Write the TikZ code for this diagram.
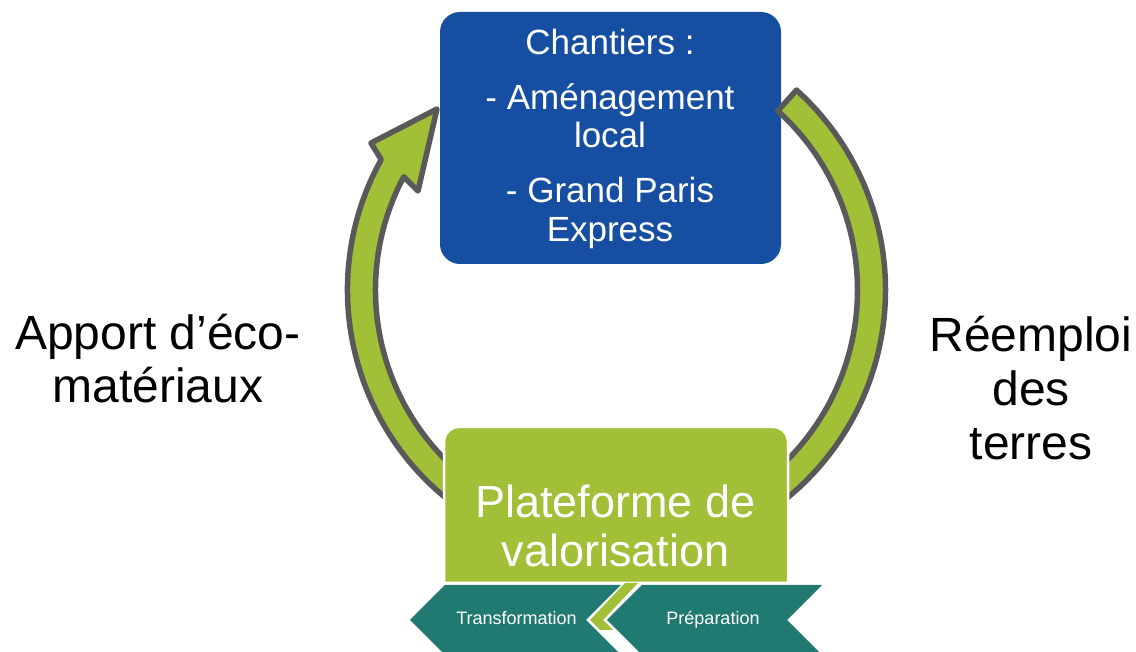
\documentclass[tikz,border=0pt]{standalone}
\usepackage{fontspec}
\setmainfont{Liberation Sans}
\definecolor{siteblue}{HTML}{164FA2}
\definecolor{ringgreen}{HTML}{A2BF38}
\definecolor{ringgray}{HTML}{595959}
\definecolor{stepteal}{HTML}{217A72}
\begin{document}
\begin{tikzpicture}[x=1pt,y=1pt,
  wtxt/.style={inner sep=0pt, anchor=base, text=white},
  sitetext/.style={wtxt, font=\fontsize{35}{38}\selectfont},
  plattext/.style={wtxt, font=\fontsize{45}{48}\selectfont},
  steptext/.style={wtxt, font=\fontsize{18}{20}\selectfont},
  sidetext/.style={inner sep=0pt, anchor=base, text=black, font=\fontsize{48}{54}\selectfont},
  ring/.style={fill=ringgreen, draw=ringgray, line width=5.5pt, line join=round},
  stepbox/.style={fill=stepteal}]
\useasboundingbox (0,0) rectangle (1136,652);

% building sites box
\node[fill=siteblue, rounded corners=20pt, minimum width=341pt, minimum height=252pt,
      inner sep=0pt] (site) at (610.5,514) {};
\node[sitetext] (s1) at (610,597) {Chantiers :};
\node[sitetext] (s2) at (610,542) {- Aménagement};
\node[sitetext] (s3) at (610,504) {local};
\node[sitetext] (s4) at (610,449) {- Grand Paris};
\node[sitetext] (s5) at (610,410) {Express};

% circular flow bands around the centre
\begin{scope}[shift={(616.5,362)}]
  % left band, ending in an arrow head at the sites box
  \draw[ring] (240:269) arc[start angle=240, end angle=151, radius=269]
     -- (371-616.5,509-362) -- (437-616.5,543-362) -- (418-616.5,461-362)
     -- (152:241) arc[start angle=152, end angle=240, radius=241] -- cycle;
  % right band, from the sites box down to the platform
  \draw[ring] (48:269) arc[start angle=48, end angle=-60, radius=269]
     -- (-60:241) arc[start angle=-60, end angle=48, radius=241] -- cycle;
\end{scope}

% recovery platform
\draw[fill=ringgreen, draw=white, line width=2.5pt]
  (444,69) -- (444,210) arc[start angle=180, end angle=90, radius=15]
  -- (773,225) arc[start angle=90, end angle=0, radius=15] -- (788,69) -- cycle;
\node[plattext] (p1) at (615.5,134) {Plateforme de};
\node[plattext] (p2) at (615.5,85) {valorisation};

% green link between the two steps
\fill[ringgreen] (625,69) -- (638,69) -- (603,32) -- (613,22) -- (600,22) -- (590,32) -- cycle;

% process steps
\fill[stepbox] (410,32) -- (445,67) -- (621,67) -- (586,32) -- (621,-3) -- (445,-3) -- cycle;
\fill[stepbox] (607,32) -- (642,67) -- (822,67) -- (787,32) -- (822,-3) -- (642,-3) -- cycle;
\node[steptext] (t1) at (516.5,27) {Transformation};
\node[steptext] (t2) at (713,27) {Préparation};

% side captions
\node[sidetext] (a1) at (158,302) {Apport d’éco-};
\node[sidetext] (a2) at (158,249) {matériaux};
\node[sidetext] (r1) at (1031,300) {Réemploi};
\node[sidetext] (r2) at (1031,246) {des};
\node[sidetext] (r3) at (1031,192) {terres};
\end{tikzpicture}
\end{document}
